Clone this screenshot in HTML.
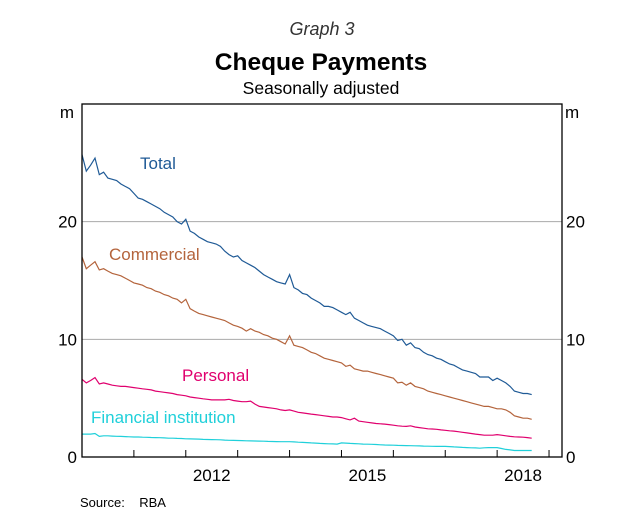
<!DOCTYPE html>
<html><head><meta charset="utf-8"><style>
body{margin:0;background:#fff;}
svg{display:block;font-family:"Liberation Sans",Arial,sans-serif;}
</style></head><body>
<svg id="chart" width="618" height="527" viewBox="0 0 618 527">
<text x="322" y="35" font-size="18" font-style="italic" fill="#333" text-anchor="middle">Graph 3</text>
<text x="321" y="70" font-size="24.5" font-weight="bold" text-anchor="middle">Cheque Payments</text>
<text x="321" y="94" font-size="17.5" text-anchor="middle">Seasonally adjusted</text>
<g id="grid"></g><g id="series"></g>
<rect x="82" y="104" width="480" height="353" fill="none" stroke="#000" stroke-width="1.3"/>
<g id="axes"></g>
<text x="74" y="118" font-size="17" text-anchor="end">m</text>
<text x="565" y="118" font-size="17">m</text>
<text x="140" y="169" font-size="17" fill="#1f5a96">Total</text>
<text x="109" y="260" font-size="17" fill="#b4643c">Commercial</text>
<text x="182" y="381" font-size="17" fill="#e0006e">Personal</text>
<text x="91" y="423" font-size="17" fill="#20d0da">Financial institution</text>
<text x="80" y="507" font-size="13">Source:&#160;&#160;&#160;&#160;RBA</text>
</svg>
<script>
const yTicks=[0,10,20];
const yearTicks=[2011,2012,2013,2014,2015,2016,2017,2018,2019];
const yearLabels=[2012,2015,2018];
const startYear=2010.0;
const total=[25.7,24.3,24.8,25.4,24.0,24.2,23.7,23.6,23.5,23.2,23.0,22.8,22.4,22.0,21.9,21.7,21.5,21.3,21.1,20.8,20.6,20.4,20.0,19.8,20.2,19.2,19.0,18.7,18.5,18.3,18.2,18.1,17.9,17.5,17.2,17.0,17.1,16.7,16.5,16.3,16.1,15.8,15.5,15.3,15.1,14.9,14.8,14.7,15.5,14.4,14.2,13.9,13.8,13.5,13.3,13.1,12.8,12.8,12.7,12.5,12.3,12.1,12.3,11.8,11.6,11.4,11.2,11.1,11.0,10.9,10.7,10.5,10.3,9.9,10.0,9.5,9.7,9.3,9.2,8.9,8.7,8.6,8.4,8.3,8.1,7.9,7.8,7.6,7.4,7.3,7.2,7.1,6.8,6.8,6.8,6.5,6.7,6.5,6.3,6.0,5.6,5.5,5.4,5.4,5.3];
const commercial=[17.0,16.0,16.3,16.6,15.9,16.0,15.8,15.6,15.5,15.4,15.2,15.0,14.8,14.7,14.6,14.4,14.3,14.1,14.0,13.8,13.7,13.5,13.4,13.1,13.4,12.6,12.4,12.2,12.1,12.0,11.9,11.8,11.7,11.6,11.4,11.2,11.1,10.95,10.7,10.9,10.7,10.6,10.4,10.3,10.1,10.0,9.8,9.6,10.3,9.5,9.4,9.3,9.1,8.9,8.8,8.6,8.4,8.3,8.2,8.1,8.0,7.7,7.8,7.5,7.4,7.3,7.3,7.2,7.1,7.0,6.9,6.8,6.7,6.3,6.35,6.1,6.3,6.0,5.9,5.8,5.6,5.5,5.4,5.3,5.2,5.1,5.0,4.9,4.8,4.7,4.6,4.5,4.4,4.3,4.3,4.2,4.1,4.1,4.0,3.8,3.5,3.4,3.3,3.3,3.2];
const personal=[6.6,6.3,6.5,6.75,6.2,6.3,6.2,6.1,6.05,6.0,6.0,5.95,5.9,5.85,5.8,5.75,5.7,5.6,5.55,5.5,5.45,5.4,5.3,5.25,5.2,5.1,5.05,5.0,4.95,4.9,4.85,4.85,4.85,4.85,4.9,4.8,4.75,4.7,4.7,4.75,4.5,4.3,4.25,4.2,4.15,4.1,4.0,3.95,4.0,3.9,3.8,3.75,3.7,3.65,3.6,3.55,3.5,3.45,3.4,3.4,3.35,3.25,3.15,3.3,3.05,3.0,2.95,2.9,2.85,2.82,2.8,2.75,2.7,2.65,2.62,2.6,2.65,2.55,2.5,2.45,2.4,2.38,2.35,2.3,2.27,2.23,2.2,2.15,2.1,2.05,2.0,1.95,1.9,1.85,1.85,1.85,1.9,1.85,1.8,1.75,1.72,1.7,1.68,1.65,1.6];
const financial=[1.95,1.95,1.95,2.0,1.75,1.8,1.8,1.78,1.76,1.75,1.73,1.72,1.7,1.7,1.68,1.67,1.66,1.65,1.64,1.62,1.6,1.6,1.58,1.57,1.55,1.54,1.53,1.52,1.5,1.49,1.48,1.47,1.46,1.44,1.42,1.41,1.4,1.39,1.38,1.37,1.36,1.35,1.34,1.33,1.32,1.31,1.3,1.3,1.3,1.28,1.26,1.24,1.22,1.2,1.18,1.16,1.14,1.12,1.11,1.1,1.2,1.18,1.16,1.14,1.12,1.1,1.09,1.08,1.06,1.04,1.02,1.01,1.0,0.99,0.98,0.97,0.96,0.95,0.94,0.93,0.92,0.91,0.9,0.9,0.9,0.88,0.86,0.84,0.82,0.8,0.78,0.77,0.75,0.78,0.8,0.8,0.8,0.72,0.65,0.6,0.55,0.55,0.55,0.55,0.55];
const colors=["#1f5a96","#b4643c","#e0006e","#20d0da"];
const names=["total","commercial","personal","financial-institution"];
const X0=82,X1=562,Y0=457,Y1=104,XMIN=2010.0,XMAX=2019.25,YMAX=30;
function xs(t){return X0+(t-XMIN)/(XMAX-XMIN)*(X1-X0);}
function ys(v){return Y0-v/YMAX*(Y0-Y1);}
const NS="http://www.w3.org/2000/svg";
const grid=document.getElementById('grid'),axes=document.getElementById('axes'),ser=document.getElementById('series');
yTicks.forEach(v=>{
  if(v>0){const l=document.createElementNS(NS,'line');
  l.setAttribute('x1',X0);l.setAttribute('x2',X1);l.setAttribute('y1',ys(v));l.setAttribute('y2',ys(v));
  l.setAttribute('stroke','#aaa');l.setAttribute('stroke-width','1');
  
  
  grid.appendChild(l);}
  [[X0-5,'end','left'],[X1+4,'start','right']].forEach(([x,a,s])=>{
    const t=document.createElementNS(NS,'text');
    t.setAttribute('x',x);t.setAttribute('y',ys(v)+6);t.setAttribute('font-size','17');t.setAttribute('text-anchor',a);
    t.textContent=v;
    
    
    axes.appendChild(t);
  });
});
yearTicks.forEach(yr=>{
  const l=document.createElementNS(NS,'line');
  l.setAttribute('x1',xs(yr));l.setAttribute('x2',xs(yr));l.setAttribute('y1',Y0);l.setAttribute('y2',Y0-7);
  l.setAttribute('stroke','#000');
  
  
  axes.appendChild(l);
});
yearLabels.forEach(yr=>{
  const t=document.createElementNS(NS,'text');
  t.setAttribute('x',xs(yr+0.5));t.setAttribute('y',Y0+24);t.setAttribute('font-size','17');t.setAttribute('text-anchor','middle');
  t.textContent=yr;
  
  
  axes.appendChild(t);
});
[total,commercial,personal,financial].forEach((arr,i)=>{
  const p=document.createElementNS(NS,'polyline');
  p.setAttribute('points',arr.map((v,k)=>xs(startYear+k/12).toFixed(1)+','+ys(v).toFixed(1)).join(' '));
  p.setAttribute('fill','none');p.setAttribute('stroke',colors[i]);p.setAttribute('stroke-width','1.2');
  
  
  ser.appendChild(p);
});
</script>
</body></html>
